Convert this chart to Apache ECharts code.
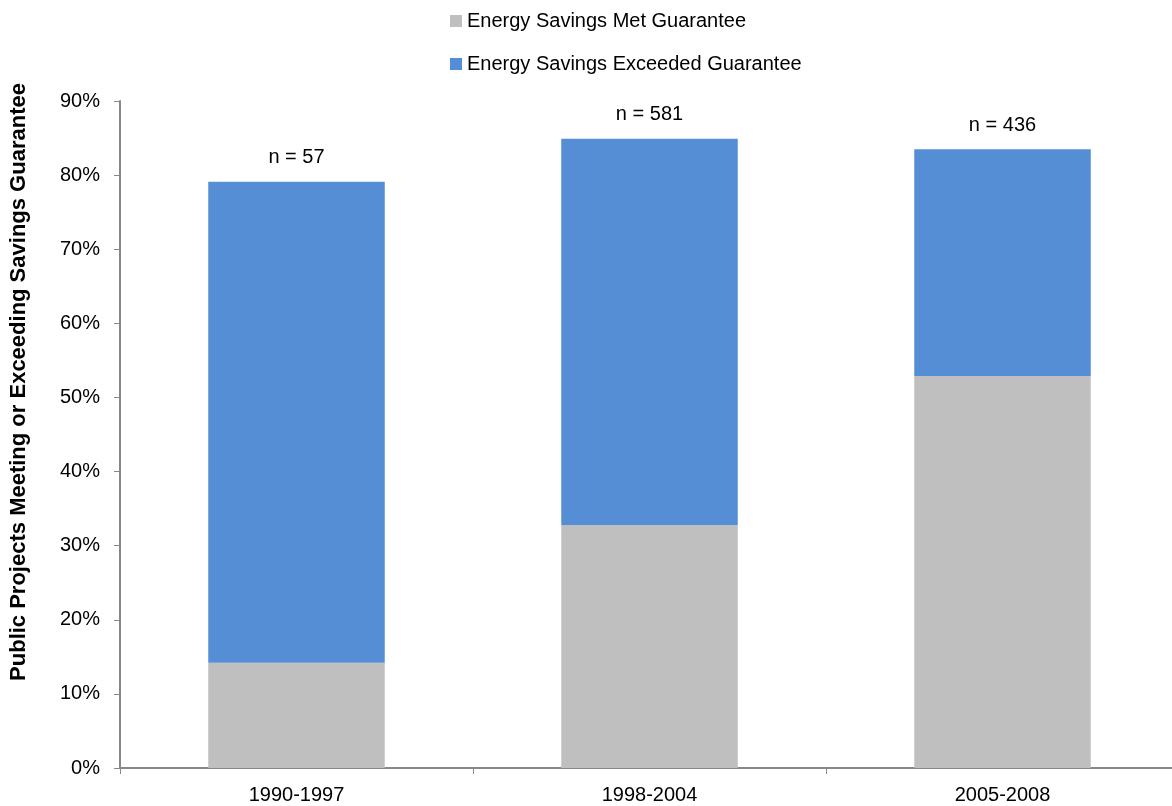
<!DOCTYPE html>
<html><head><meta charset="utf-8">
<script src="https://cdn.jsdelivr.net/npm/echarts@6/dist/echarts.min.js"></script>
<style>html,body{margin:0;padding:0;background:#fff}#c{width:1172px;height:806px}</style>
</head><body><div id="c"></div>
<script>
const categories = ['1990-1997', '1998-2004', '2005-2008'];
const metGuarantee = [14.2, 32.8, 52.9];
const exceededGuarantee = [64.9, 52.1, 30.6];
const sampleSizes = ['n = 57', 'n = 581', 'n = 436'];
const seriesNames = ['Energy Savings Met Guarantee', 'Energy Savings Exceeded Guarantee'];
const yTitle = 'Public Projects Meeting or Exceeding Savings Guarantee';

const chart = echarts.init(document.getElementById('c'), null, {renderer: 'canvas'});
const font = 'Arial, "Liberation Sans", sans-serif';
chart.setOption({
  animation: false,
  backgroundColor: '#fff',
  textStyle: {fontFamily: font},
  legend: {
    orient: 'vertical', left: 450, top: 11, itemGap: 23, padding: 0,
    itemWidth: 12, itemHeight: 12, icon: 'rect',
    textStyle: {fontSize: 20, color: '#000', fontFamily: font},
    data: seriesNames
  },
  grid: {left: 120, width: 1059, top: 101, bottom: 38, containLabel: false, outerBoundsMode: 'none'},
  xAxis: {
    type: 'category', data: categories,
    axisLine: {lineStyle: {color: '#888', width: 2}},
    axisTick: {show: true, length: 6, lineStyle: {color: '#888'}},
    axisLabel: {fontSize: 20, color: '#000', margin: 17}
  },
  yAxis: {
    type: 'value', min: 0, max: 90, interval: 10,
    axisLine: {show: true, lineStyle: {color: '#888', width: 2}},
    axisTick: {show: true, length: 6, lineStyle: {color: '#888'}},
    splitLine: {show: false},
    axisLabel: {fontSize: 20, color: '#000', margin: 20, formatter: v => v + '%'}
  },
  graphic: [{
    type: 'text', x: 19, y: 382, rotation: Math.PI / 2,
    style: {text: yTitle, font: 'bold 22px ' + font, fill: '#000', align: 'center', verticalAlign: 'middle'}
  }],
  series: [
    {name: seriesNames[0], type: 'bar', stack: 's', data: metGuarantee, barWidth: '50%',
     itemStyle: {color: '#BFBFBF'}},
    {name: seriesNames[1], type: 'bar', stack: 's', data: exceededGuarantee, barWidth: '50%',
     itemStyle: {color: '#558ED5'},
     label: {show: true, position: 'top', distance: 14, fontSize: 20, color: '#000',
       formatter: p => sampleSizes[p.dataIndex]}}
  ]
});
</script></body></html>
